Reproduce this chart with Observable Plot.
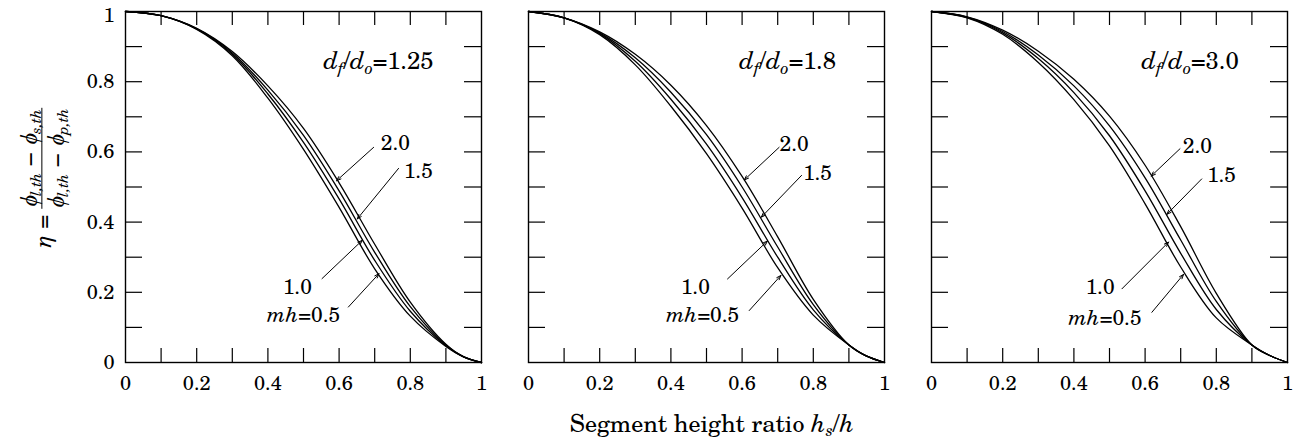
<!DOCTYPE html>
<html>
<head>
<meta charset="utf-8">
<script src="https://cdn.jsdelivr.net/npm/d3@7"></script>
<script src="https://cdn.jsdelivr.net/npm/@observablehq/plot@0.6"></script>
<style>
  html, body { margin: 0; padding: 0; background: #fff; }
  #wrap { position: relative; width: 1305px; height: 447px; background: #fff; overflow: hidden;
          font-family: 'TeX Gyre Schola', 'Liberation Serif', serif; color: #000; }
  #chart { position: absolute; left: 0; top: 0; }
  #ylab { position: absolute; left: 42px; top: 178px; transform: translate(-50%, -50%) rotate(-90deg);
          white-space: nowrap; font-size: 23px; display: flex; align-items: center; }
  #ylab .frac { display: inline-flex; flex-direction: column; align-items: center; margin-left: 6px; }
  #ylab .num { border-bottom: 1px solid #000; padding: 0 1px 1px 1px; line-height: 1.05; }
  #ylab .den { padding-top: 1px; line-height: 1.05; }
  #ylab sub { font-size: 15px; vertical-align: -4px; line-height: 0; }
  #xlab sub { font-size: 16px; vertical-align: -4px; line-height: 0; }
  #xlab { position: absolute; left: 712px; top: 405px; transform: translateX(-50%); white-space: nowrap; font-size: 24px; }
</style>
</head>
<body>
<div id="wrap">
  <div id="chart"></div>
  <div id="ylab"><i>η</i>&nbsp;=<span class="frac"><span class="num"><i>ϕ</i><sub><i>l,th</i></sub> − <i>ϕ</i><sub><i>s,th</i></sub></span><span class="den"><i>ϕ</i><sub><i>l,th</i></sub> − <i>ϕ</i><sub><i>p,th</i></sub></span></span></div>
  <div id="xlab">Segment height ratio <i>h</i><sub><i>s</i></sub>/<i>h</i></div>
</div>
<script>
// ---- data ----
const panels = ["1.25", "1.8", "3.0"];            // d_f/d_o
const mhValues = ["0.5", "1.0", "1.5", "2.0"];    // mh
const hs = [0, 0.1, 0.2, 0.3, 0.4, 0.5, 0.6, 0.7, 0.8, 0.9, 0.95, 1]; // segment height ratio

// d_f/d_o = 1.25
const eta125_mh05 = [1, 0.988, 0.949, 0.874, 0.753, 0.607, 0.442, 0.267, 0.132, 0.046, 0.016, 0];
const eta125_mh10 = [1, 0.988, 0.950, 0.878, 0.765, 0.627, 0.466, 0.291, 0.146, 0.048, 0.016, 0];
const eta125_mh15 = [1, 0.988, 0.951, 0.882, 0.776, 0.647, 0.489, 0.314, 0.159, 0.050, 0.016, 0];
const eta125_mh20 = [1, 0.988, 0.952, 0.886, 0.788, 0.667, 0.512, 0.337, 0.172, 0.052, 0.016, 0];
// d_f/d_o = 1.8
const eta18_mh05 = [1, 0.982, 0.934, 0.848, 0.730, 0.595, 0.440, 0.270, 0.135, 0.050, 0.018, 0];
const eta18_mh10 = [1, 0.982, 0.937, 0.858, 0.750, 0.622, 0.470, 0.300, 0.150, 0.050, 0.018, 0];
const eta18_mh15 = [1, 0.982, 0.939, 0.868, 0.770, 0.649, 0.500, 0.329, 0.165, 0.050, 0.018, 0];
const eta18_mh20 = [1, 0.982, 0.942, 0.878, 0.790, 0.675, 0.530, 0.358, 0.180, 0.050, 0.018, 0];
// d_f/d_o = 3.0
const eta30_mh05 = [1, 0.982, 0.935, 0.855, 0.749, 0.617, 0.452, 0.272, 0.127, 0.050, 0.020, 0];
const eta30_mh10 = [1, 0.983, 0.939, 0.866, 0.769, 0.646, 0.489, 0.311, 0.151, 0.050, 0.020, 0];
const eta30_mh15 = [1, 0.984, 0.943, 0.876, 0.788, 0.674, 0.526, 0.349, 0.174, 0.050, 0.020, 0];
const eta30_mh20 = [1, 0.985, 0.947, 0.887, 0.807, 0.702, 0.562, 0.387, 0.197, 0.050, 0.020, 0];

const xTickLabels = [0, 0.2, 0.4, 0.6, 0.8, 1];
const yTickLabels = [0, 0.2, 0.4, 0.6, 0.8];
const yTopLabel = [1];
const minorTicks = [0.1, 0.2, 0.3, 0.4, 0.5, 0.6, 0.7, 0.8, 0.9];

// panel labels (left edge anchored)
const panelLabelText = ["d_f/d_o=1.25", "d_f/d_o=1.8", "d_f/d_o=3.0"];
const panelLabelX = [0.556, 0.592, 0.590];
const panelLabelY = [0.858, 0.858, 0.858];

// curve labels per panel: order 2.0, 1.5, 1.0, mh=0.5
const curveLabelText = ["2.0", "1.5", "1.0", "mh=0.5"];
const curveLabelX = [[0.758, 0.823, 0.483, 0.500], [0.746, 0.812, 0.469, 0.489], [0.747, 0.815, 0.474, 0.487]];
const curveLabelY = [[0.624, 0.544, 0.214, 0.134], [0.621, 0.540, 0.215, 0.134], [0.615, 0.533, 0.214, 0.125]];
// arrows (label -> curve)
const arrowX1 = [[0.697, 0.767, 0.552, 0.626], [0.704, 0.767, 0.559, 0.620], [0.698, 0.759, 0.535, 0.619]];
const arrowY1 = [[0.613, 0.553, 0.239, 0.158], [0.613, 0.533, 0.238, 0.148], [0.609, 0.523, 0.210, 0.143]];
const arrowX2 = [[0.593, 0.651, 0.665, 0.712], [0.606, 0.654, 0.671, 0.709], [0.617, 0.661, 0.666, 0.708]];
const arrowY2 = [[0.518, 0.409, 0.348, 0.253], [0.520, 0.414, 0.346, 0.248], [0.531, 0.422, 0.343, 0.251]];

// ---- tables for Plot ----
const series = {
  "1.25": [eta125_mh05, eta125_mh10, eta125_mh15, eta125_mh20],
  "1.8":  [eta18_mh05, eta18_mh10, eta18_mh15, eta18_mh20],
  "3.0":  [eta30_mh05, eta30_mh10, eta30_mh15, eta30_mh20]
};
const rows = [];
panels.forEach(p => series[p].forEach((arr, k) => arr.forEach((e, i) =>
  rows.push({panel: p, mh: mhValues[k], hs: hs[i], eta: e}))));

const panelLabels = panels.map((p, i) => ({panel: p, x: panelLabelX[i], y: panelLabelY[i], text: panelLabelText[i]}));
const curveLabels = [];
const arrows = [];
panels.forEach((p, i) => curveLabelText.forEach((t, k) => {
  curveLabels.push({panel: p, x: curveLabelX[i][k], y: curveLabelY[i][k], text: t});
  arrows.push({panel: p, x1: arrowX1[i][k], y1: arrowY1[i][k], x2: arrowX2[i][k], y2: arrowY2[i][k]});
}));

const fmt = d => String(+d.toFixed(2));

const plot = Plot.plot({
  width: 1305, height: 447,
  marginLeft: 125, marginRight: 17, marginTop: 11, marginBottom: 85,
  style: {fontFamily: "'TeX Gyre Schola', 'Liberation Serif', serif", fontSize: "20px", color: "#000", background: "#fff", overflow: "visible"},
  x: {domain: [0, 1]},
  y: {domain: [0, 1]},
  fx: {domain: panels, axis: null, label: null, paddingInner: 0.1155, paddingOuter: 0},
  marks: [
    Plot.frame({stroke: "#000", strokeWidth: 1.4}),
    Plot.tickX(minorTicks, {x: d => d, insetTop: 337, stroke: "#000", strokeWidth: 1.2}),
    Plot.tickX(minorTicks, {x: d => d, insetBottom: 337, stroke: "#000", strokeWidth: 1.2}),
    Plot.tickY(minorTicks, {y: d => d, insetRight: 339, stroke: "#000", strokeWidth: 1.2}),
    Plot.tickY(minorTicks, {y: d => d, insetLeft: 339, stroke: "#000", strokeWidth: 1.2}),
    Plot.axisX({ticks: xTickLabels, tickSize: 0, tickPadding: 13, tickFormat: fmt, label: null}),
    Plot.axisY({ticks: yTickLabels, tickSize: 0, tickPadding: 11, tickFormat: fmt, label: null}),
    Plot.axisY({ticks: yTopLabel, tickSize: 0, tickPadding: 11, tickFormat: fmt, label: null, dy: 4}),
    Plot.line(rows, {fx: "panel", x: "hs", y: "eta", z: "mh", curve: "catmull-rom", stroke: "#000", strokeWidth: 1.3}),
    Plot.arrow(arrows, {fx: "panel", x1: "x1", y1: "y1", x2: "x2", y2: "y2", stroke: "#000", strokeWidth: 1, headLength: 7, headAngle: 40}),
    Plot.text(curveLabels, {fx: "panel", x: "x", y: "y", text: "text", fill: "#000", fontSize: 21}),
    Plot.text(panelLabels, {fx: "panel", x: "x", y: "y", text: "text", textAnchor: "start", fill: "#000", fontSize: 24})
  ]
});

// italics / subscripts inside the real <text> elements
function setRich(el, parts, subSize) {
  el.textContent = "";
  const ns = "http://www.w3.org/2000/svg";
  let shifted = false;
  parts.forEach(([t, it, sub]) => {
    const ts = document.createElementNS(ns, "tspan");
    ts.textContent = t;
    if (it) ts.setAttribute("font-style", "italic");
    if (sub && !shifted) { ts.setAttribute("dy", "5"); ts.setAttribute("font-size", subSize); shifted = true; }
    else if (sub) { ts.setAttribute("font-size", subSize); }
    else if (shifted) { ts.setAttribute("dy", "-5"); shifted = false; }
    el.appendChild(ts);
  });
}
plot.querySelectorAll("text").forEach(el => {
  const s = el.textContent;
  let m;
  if ((m = s.match(/^d_f\/d_o=(.*)$/))) {
    setRich(el, [["d", true], ["f", true, true], ["/"], ["d", true], ["o", true, true], ["=" + m[1]]], 16);
  } else if ((m = s.match(/^mh=(.*)$/))) {
    setRich(el, [["mh", true], ["=" + m[1]]], 14);
  }
});

document.getElementById("chart").appendChild(plot);
</script>
</body>
</html>
